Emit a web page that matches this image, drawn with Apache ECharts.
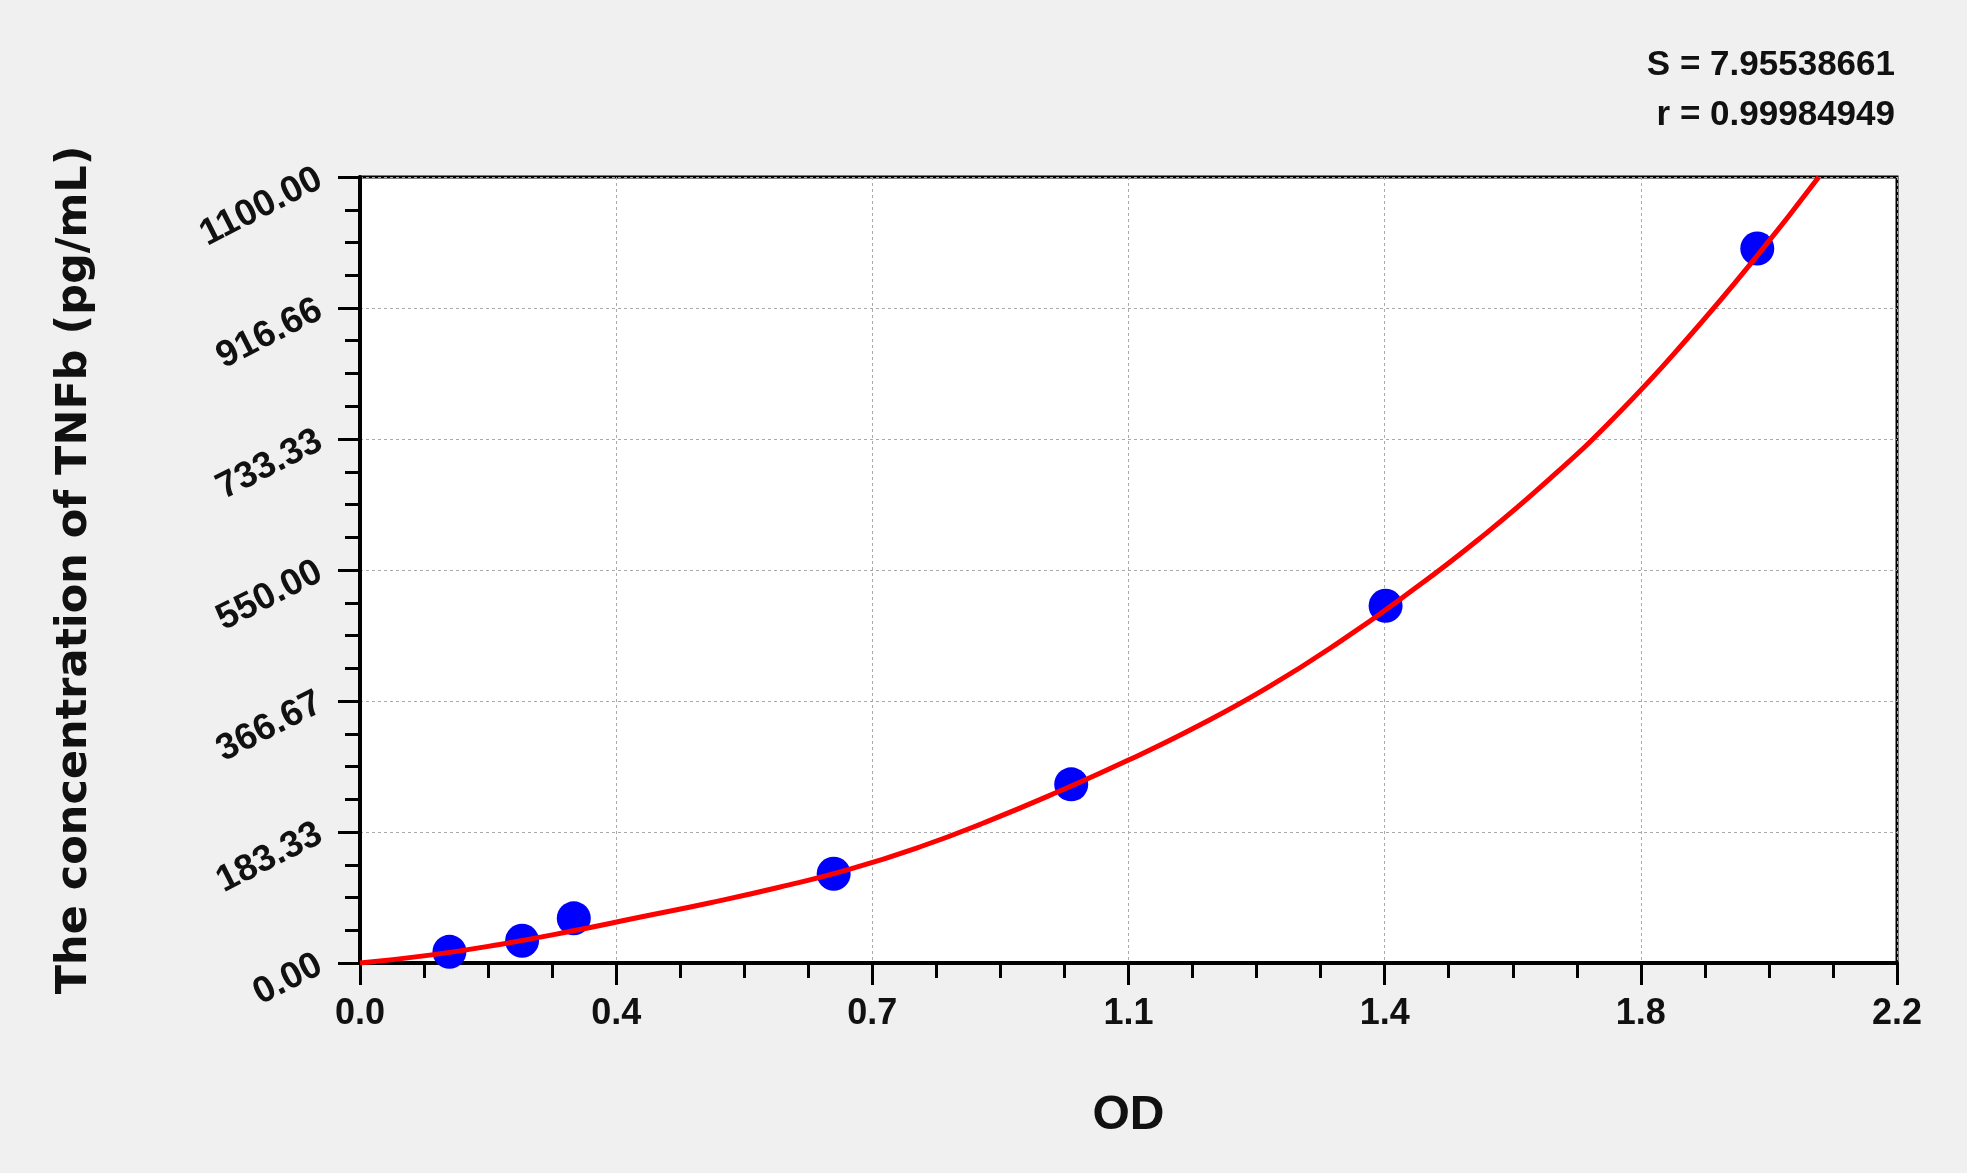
<!DOCTYPE html>
<html>
<head>
<meta charset="utf-8">
<script src="https://cdn.jsdelivr.net/npm/echarts@6/dist/echarts.min.js"></script>
<style>
html,body{margin:0;padding:0;background:#f0f0f0;}
#chart{width:1967px;height:1173px;}
</style>
</head>
<body>
<div id="chart"></div>
<script>
// Standard points (OD vs concentration)
const stdOD = [0.128, 0.232, 0.306, 0.678, 1.018, 1.468, 2.000];
const stdConc = [15.63, 31.25, 62.5, 125, 250, 500, 1000];

// Fitted curve
const curveOD =   [0, 0.1, 0.2, 0.3, 0.4, 0.5, 0.6, 0.7, 0.8, 0.9, 1.0, 1.1, 1.2, 1.3, 1.4, 1.5, 1.6, 1.7, 1.8, 1.9, 2.0, 2.088];
const curveConc = [0, 11, 26, 44, 64, 84, 106, 131, 162, 199, 240, 284, 332, 386, 448, 517, 592, 675, 768, 874, 990, 1100];

// Tick labels
const xTickLabels = ['0.0', '0.4', '0.7', '1.1', '1.4', '1.8', '2.2'];
const yTickLabels = ['0.00', '183.33', '366.67', '550.00', '733.33', '916.66', '1100.00'];

const statLines = ['S = 7.95538661', 'r = 0.99984949'];
const xTitle = 'OD';
const yTitle = 'The concentration of TNFb (pg/mL)';

const xMax = 2.2, yMax = 1100;
const xStep = xMax / 6, yStep = yMax / 6;

const font = 'Liberation Sans, Arial, Helvetica, sans-serif';

const chart = echarts.init(document.getElementById('chart'), null, {renderer: 'canvas'});

const option = {
  backgroundColor: '#f0f0f0',
  animation: false,
  grid: {
    left: 360, right: 70, top: 177, bottom: 210,
    show: true, backgroundColor: '#ffffff', borderColor: '#000000', borderWidth: 3
  },
  graphic: [
    {type: 'text', right: 72, top: 48,
     style: {text: statLines[0], font: 'bold 35px ' + font, fill: '#111', textAlign: 'right'}},
    {type: 'text', right: 72, top: 98,
     style: {text: statLines[1], font: 'bold 35px ' + font, fill: '#111', textAlign: 'right'}}
  ],
  xAxis: {
    type: 'value', min: 0, max: xMax, interval: xStep,
    name: xTitle, nameLocation: 'middle', nameGap: 129,
    nameTextStyle: {fontFamily: font, fontWeight: 'bold', fontSize: 48, color: '#111'},
    axisLine: {show: true, onZero: false, lineStyle: {color: '#000', width: 4}},
    axisTick: {show: true, inside: false, length: 22, lineStyle: {color: '#000', width: 3}},
    minorTick: {show: true, splitNumber: 4, length: 15, lineStyle: {color: '#000', width: 3}},
    splitLine: {show: true, lineStyle: {color: '#aaaaaa', width: 1, type: [3, 3]}},
    axisLabel: {
      margin: 33, fontFamily: font, fontWeight: 'bold', fontSize: 36, color: '#111',
      showMinLabel: true, showMaxLabel: true,
      formatter: function (v) { const i = Math.round(v / xStep); return xTickLabels[i] !== undefined ? xTickLabels[i] : ''; }
    }
  },
  yAxis: {
    type: 'value', min: 0, max: yMax, interval: yStep,
    name: yTitle, nameLocation: 'middle', nameGap: 264, nameRotate: 90,
    nameTextStyle: {fontFamily: 'DejaVu Sans, sans-serif', fontWeight: 'bold', fontSize: 43, color: '#111'},
    axisLine: {show: true, onZero: false, lineStyle: {color: '#000', width: 4}},
    axisTick: {show: true, inside: false, length: 22, lineStyle: {color: '#000', width: 3}},
    minorTick: {show: true, splitNumber: 4, length: 15, lineStyle: {color: '#000', width: 3}},
    splitLine: {show: true, lineStyle: {color: '#aaaaaa', width: 1, type: [3, 3]}},
    axisLabel: {
      margin: 40, rotate: 27, fontFamily: font, fontWeight: 'bold', fontSize: 37, color: '#111',
      showMinLabel: true, showMaxLabel: true,
      formatter: function (v) { const i = Math.round(v / yStep); return yTickLabels[i] !== undefined ? yTickLabels[i] : ''; }
    }
  },
  series: [
    {
      type: 'scatter', name: 'Standards',
      data: stdOD.map((x, i) => [x, stdConc[i]]),
      symbol: 'circle', symbolSize: 34,
      itemStyle: {color: '#0000ff', opacity: 1}, z: 2
    },
    {
      type: 'line', name: 'Fit',
      data: curveOD.map((x, i) => [x, curveConc[i]]),
      smooth: 0.5, showSymbol: false, symbol: 'none', clip: true,
      lineStyle: {color: '#ff0000', width: 5}, z: 3
    }
  ]
};
chart.setOption(option);
</script>
</body>
</html>
